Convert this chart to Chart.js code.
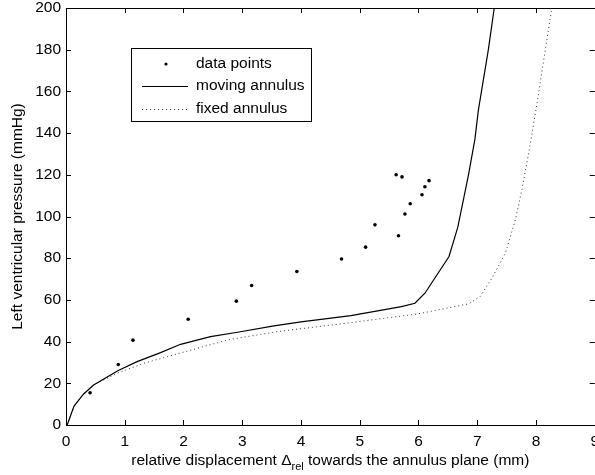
<!DOCTYPE html>
<html>
<head>
<meta charset="utf-8">
<script src="https://cdn.jsdelivr.net/npm/chart.js@4/dist/chart.umd.min.js"></script>
<style>
  html, body { margin: 0; padding: 0; background: #fff; overflow: hidden; }
  #wrap { width: 606px; height: 475px; }
</style>
</head>
<body>
<div id="wrap"><canvas id="chart" width="606" height="475"></canvas></div>
<script>
// measured points
const pointsX = [0.41, 0.89, 1.14, 2.08, 2.90, 3.16, 3.93, 4.69, 5.10, 5.26, 5.62, 5.72, 5.66, 5.77, 5.86, 6.06, 6.11, 6.18]
const pointsY = [15.5, 29, 40.7, 50.7, 59.4, 66.9, 73.6, 79.6, 85.3, 96.0, 120, 119, 90.8, 101.2, 106.1, 110.4, 114.3, 117.2]

// model curves
const movingX = [0.02, 0.137, 0.30, 0.47, 0.89, 1.21, 1.61, 1.95, 2.46, 2.92, 3.54, 4.0, 4.85, 5.71, 5.94, 6.11, 6.52, 6.67, 6.85, 6.96, 7.02, 7.19, 7.29]
const movingY = [0, 9.1, 14.9, 19.2, 26.1, 30.4, 34.7, 38.7, 42.4, 44.5, 47.5, 49.5, 52.5, 56.8, 58.4, 63.2, 80.8, 94.9, 119.7, 136.9, 151, 180, 200]
const fixedX = [0.02, 0.137, 0.30, 0.47, 0.87, 1.32, 1.83, 2.75, 3.6, 4.85, 5.99, 6.85, 7.05, 7.25, 7.48, 7.65, 7.76, 7.88, 8.02, 8.16, 8.27]
const fixedY = [0, 9.1, 14.9, 19.2, 24.8, 29.6, 33.6, 40.8, 44.8, 49.1, 53.3, 58.1, 61.6, 70.4, 82.4, 98.4, 112.8, 131, 154.5, 180, 200]

const xTicks = [0, 1, 2, 3, 4, 5, 6, 7, 8, 9]
const yTicks = [0, 20, 40, 60, 80, 100, 120, 140, 160, 180, 200]

const labels = ['data points', 'moving annulus', 'fixed annulus']
const xTitle = ['relative displacement \u0394', 'rel', ' towards the annulus plane (mm)']
const yTitle = 'Left ventricular pressure (mmHg)'

const FONT = 'Liberation Sans, Arial, Helvetica, sans-serif'

const toXY = (xs, ys) => xs.map((x, i) => ({x: x, y: ys[i]}))

// MATLAB style box with inward ticks
const boxPlugin = {
  id: 'box',
  afterDatasetsDraw(chart) {
    const {ctx, chartArea: a, scales} = chart
    ctx.save()
    ctx.strokeStyle = '#000'
    ctx.lineWidth = 1
    ctx.strokeRect(Math.round(a.left) + 0.5, Math.round(a.top) + 0.5,
      Math.round(a.right - a.left), Math.round(a.bottom - a.top))
    ctx.beginPath()
    const len = 5
    xTicks.forEach(v => {
      const px = Math.round(scales.x.getPixelForValue(v)) + 0.5
      ctx.moveTo(px, a.bottom); ctx.lineTo(px, a.bottom - len)
      ctx.moveTo(px, a.top); ctx.lineTo(px, a.top + len)
    })
    yTicks.forEach(v => {
      const py = Math.round(scales.y.getPixelForValue(v)) + 0.5
      ctx.moveTo(a.left, py); ctx.lineTo(a.left + len, py)
      ctx.moveTo(a.right, py); ctx.lineTo(a.right - len, py)
    })
    ctx.stroke()

    // legend
    const lx = 131.5, ly = 48.5, lw = 180, lh = 73
    ctx.fillStyle = '#fff'
    ctx.fillRect(lx, ly, lw, lh)
    ctx.strokeRect(lx, ly, lw, lh)
    const rows = [64, 86, 109]
    ctx.fillStyle = '#000'
    ctx.beginPath()
    ctx.arc(166, rows[0], 1.6, 0, Math.PI * 2)
    ctx.fill()
    ctx.beginPath()
    ctx.lineWidth = 1
    ctx.moveTo(142, rows[1] + 0.5); ctx.lineTo(188, rows[1] + 0.5)
    ctx.stroke()
    ctx.setLineDash([1, 3])
    ctx.strokeStyle = '#333'
    ctx.beginPath()
    ctx.moveTo(142, rows[2] + 0.5); ctx.lineTo(188, rows[2] + 0.5)
    ctx.stroke()
    ctx.setLineDash([])
    ctx.font = '15.5px ' + FONT
    ctx.textBaseline = 'middle'
    ctx.textAlign = 'left'
    labels.forEach((t, i) => ctx.fillText(t, 196, rows[i]))

    // x title with subscript
    const big = '15.5px ' + FONT, small = '11px ' + FONT
    ctx.font = big
    const w0 = ctx.measureText(xTitle[0]).width
    const w2 = ctx.measureText(xTitle[2]).width
    ctx.font = small
    const w1 = ctx.measureText(xTitle[1]).width
    let tx = (a.left + a.right) / 2 - (w0 + w1 + w2) / 2
    const ty = 465
    ctx.textBaseline = 'alphabetic'
    ctx.font = big
    ctx.fillText(xTitle[0], tx, ty); tx += w0
    ctx.font = small
    ctx.fillText(xTitle[1], tx, ty + 5); tx += w1
    ctx.font = big
    ctx.fillText(xTitle[2], tx, ty)
    ctx.restore()
  }
}

const ctx = document.getElementById('chart').getContext('2d')

const myChart = new Chart(ctx, {
  type: 'scatter',
  data: {
    datasets: [{
      label: labels[0],
      data: toXY(pointsX, pointsY),
      showLine: false,
      pointRadius: 1.8,
      pointBackgroundColor: '#000',
      pointBorderWidth: 0
    },
    {
      label: labels[1],
      data: toXY(movingX, movingY),
      showLine: true,
      borderColor: '#000',
      borderWidth: 1.2,
      pointRadius: 0,
      tension: 0
    },
    {
      label: labels[2],
      data: toXY(fixedX, fixedY),
      showLine: true,
      borderColor: '#333',
      borderWidth: 1,
      borderDash: [1, 3],
      pointRadius: 0,
      tension: 0
    }]
  },
  options: {
    responsive: false,
    animation: false,
    layout: { padding: { top: 8, right: 0, left: 0, bottom: 0 } },
    plugins: { legend: { display: false }, tooltip: { enabled: false } },
    scales: {
      x: {
        type: 'linear',
        min: 0, max: 9,
        afterBuildTicks: s => { s.ticks = xTicks.map(v => ({value: v})) },
        afterFit: s => { s.height = 50 },
        grid: { display: false, drawTicks: false },
        border: { display: false },
        ticks: { color: '#000', padding: 7, maxRotation: 0, font: { family: FONT, size: 15.5 } }
      },
      y: {
        type: 'linear',
        min: 0, max: 200,
        afterBuildTicks: s => { s.ticks = yTicks.map(v => ({value: v})) },
        afterFit: s => { s.width = 66; s.paddingTop = 0; s.paddingBottom = 0 },
        grid: { display: false, drawTicks: false },
        border: { display: false },
        ticks: { color: '#000', padding: 5, font: { family: FONT, size: 15.5 } },
        title: { display: true, text: yTitle, color: '#000', padding: { top: 8, bottom: 0 }, font: { family: FONT, size: 15.5 } }
      }
    }
  },
  plugins: [boxPlugin]
})
</script>
</body>
</html>
